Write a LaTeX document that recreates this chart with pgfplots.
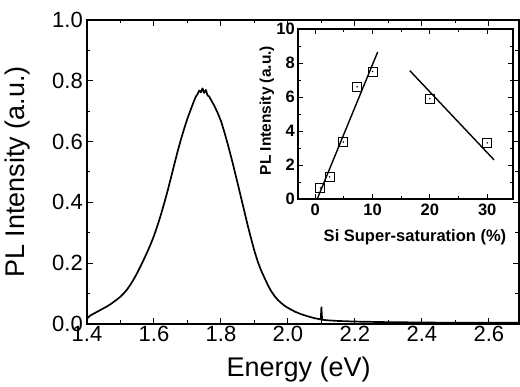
\documentclass[border=0pt]{standalone}
\usepackage{fontspec}
\setmainfont{Liberation Sans}
\usepackage{pgfplots}
\pgfplotsset{compat=1.18}
\usepackage{pgfplotstable}

\pgfplotstableread{
E I
1.400 0.018
1.410 0.028
1.420 0.034
1.430 0.040
1.440 0.046
1.450 0.052
1.460 0.058
1.470 0.065
1.480 0.073
1.490 0.081
1.500 0.090
1.510 0.101
1.520 0.114
1.530 0.130
1.540 0.148
1.550 0.168
1.560 0.190
1.570 0.213
1.580 0.237
1.590 0.262
1.600 0.290
1.610 0.322
1.620 0.357
1.630 0.395
1.640 0.435
1.650 0.478
1.660 0.522
1.670 0.565
1.680 0.605
1.690 0.642
1.700 0.676
1.710 0.706
1.720 0.735
1.725 0.748
1.730 0.756
1.735 0.768
1.740 0.762
1.745 0.775
1.750 0.760
1.755 0.770
1.760 0.752
1.765 0.748
1.770 0.738
1.780 0.718
1.790 0.695
1.800 0.668
1.810 0.632
1.820 0.593
1.830 0.551
1.840 0.507
1.850 0.462
1.860 0.416
1.870 0.370
1.880 0.324
1.890 0.281
1.900 0.240
1.910 0.205
1.920 0.176
1.930 0.152
1.940 0.128
1.950 0.108
1.960 0.092
1.970 0.079
1.980 0.069
1.990 0.060
2.000 0.053
2.020 0.041
2.040 0.032
2.060 0.025
2.080 0.019
2.098 0.015
2.100 0.055
2.102 0.014
2.120 0.012
2.150 0.010
2.200 0.008
2.250 0.007
2.300 0.006
2.400 0.005
2.500 0.004
2.600 0.004
2.690 0.004
}\spectrum

\pgfplotstableread{
S I
0.9 0.65
2.5 1.3
4.9 3.35
7.3 6.6
10 7.5
20 5.9
30 3.3
}\points

\begin{document}
\begin{tikzpicture}
\useasboundingbox (-87pt,-63pt) rectangle (433pt,324pt);
\begin{axis}[
  name=main,
  at={(0pt,0pt)}, anchor=south west,
  scale only axis, width=432pt, height=304pt,
  xmin=1.4, xmax=2.69, ymin=0, ymax=1.0,
  xtick={1.4,1.6,...,2.61}, ytick={0,0.2,...,1.01},
  minor x tick num=1, minor y tick num=1,
  tick align=inside,
  major tick length=6pt, minor tick length=3.5pt,
  axis line style={line width=1.8pt},
  every tick/.style={black, line width=1pt},
  /pgf/number format/assume math mode=true,
  /pgf/number format/.cd, fixed, zerofill, precision=1, /pgfplots/.cd,
  ticklabel style={font=\fontsize{22}{22}\selectfont},
  xticklabel style={inner sep=2pt},
  yticklabel style={inner sep=4pt},
  xlabel={Energy (eV)}, ylabel={PL Intensity (a.u.)},
  every axis x label/.style={at={(axis description cs:0.49,-0.15)}, anchor=center, font=\fontsize{27}{27}\selectfont},
  every axis y label/.style={at={(axis description cs:-0.16,0.5)}, anchor=center, rotate=90, font=\fontsize{27}{27}\selectfont},
]
\addplot[black, line width=1.7pt, line join=round] table[x=E, y=I] {\spectrum};
\end{axis}

\begin{axis}[
  at={(211pt,125pt)}, anchor=south west,
  scale only axis, width=215pt, height=170pt,
  xmin=-3, xmax=34.5, ymin=0, ymax=10,
  xtick={0,10,20,30}, ytick={0,2,...,10},
  minor x tick num=1, minor y tick num=1,
  tick align=inside,
  major tick length=5pt, minor tick length=3pt,
  axis line style={line width=1.1pt},
  every tick/.style={black, line width=0.8pt},
  axis background/.style={fill=white},
  /pgf/number format/assume math mode=true,
  ticklabel style={font=\bfseries\fontsize{16.5}{16.5}\selectfont},
  xticklabel style={inner sep=5pt},
  yticklabel style={inner sep=3pt},
  xlabel={Si Super-saturation (\%)}, ylabel={PL Intensity (a.u.)},
  every axis x label/.style={at={(axis description cs:0.544,-0.225)}, anchor=center, font=\bfseries\fontsize{16.5}{16.5}\selectfont},
  every axis y label/.style={at={(axis description cs:-0.145,0.52)}, anchor=center, rotate=90, font=\bfseries\fontsize{15.5}{15.5}\selectfont},
]
\addplot[black, line width=1.4pt] coordinates {(0.35,0) (10.9,8.65)};
\addplot[black, line width=1.4pt] coordinates {(16.5,7.55) (31.2,2.3)};
\addplot[only marks, mark=square, mark size=4.5pt, mark options={black, line width=0.8pt, fill=none}] table[x=S, y=I] {\points};
\addplot[only marks, mark=*, mark size=0.5pt, black] table[x=S, y=I] {\points};
\end{axis}
\end{tikzpicture}
\end{document}
